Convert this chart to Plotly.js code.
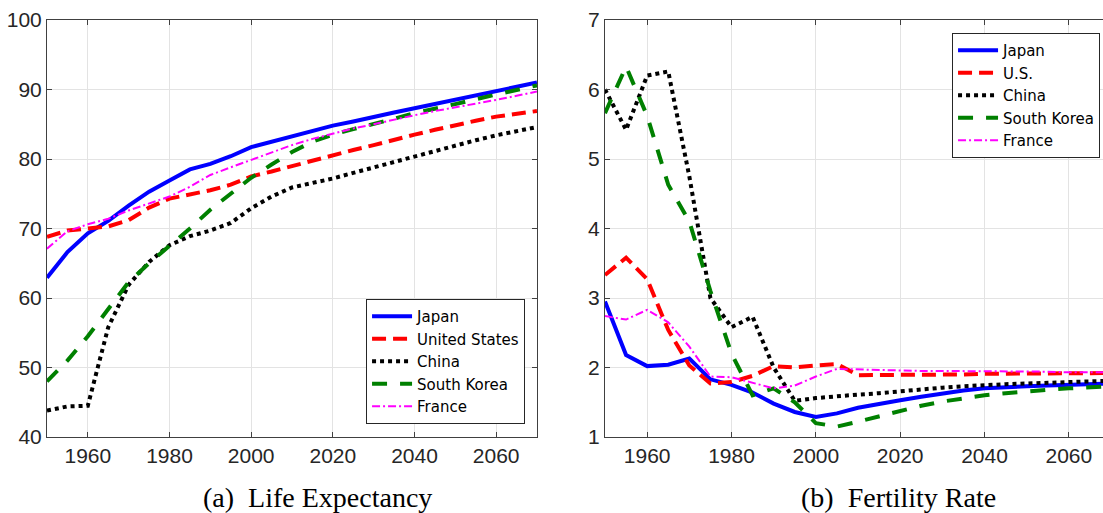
<!DOCTYPE html>
<html>
<head>
<meta charset="utf-8">
<script src="https://cdn.plot.ly/plotly-3.0.1.min.js"></script>
<style>
html,body{margin:0;padding:0;background:#fff;}
#chart{width:1103px;height:513px;}
</style>
</head>
<body>
<div id="chart"></div>
<script>
// ---- data ----
var years = [1950,1955,1960,1965,1970,1975,1980,1985,1990,1995,2000,2005,2010,2015,2020,2025,2030,2035,2040,2045,2050,2055,2060,2065,2070];

// (a) Life expectancy
var lifeJapan  = [62.9,66.6,69.3,71.1,73.3,75.3,76.9,78.5,79.3,80.4,81.7,82.5,83.3,84.1,84.8,85.4,86.1,86.7,87.3,87.9,88.5,89.1,89.7,90.4,91.0];
var lifeUS     = [68.8,69.7,70.0,70.3,71.2,73.0,74.3,74.9,75.5,76.3,77.5,78.2,79.0,79.8,80.6,81.3,82.0,82.8,83.5,84.2,84.9,85.5,86.1,86.5,86.9];
var lifeChina  = [43.8,44.4,44.5,55.8,61.9,65.2,67.6,68.9,69.7,70.8,72.9,74.6,75.9,76.5,77.2,78.0,78.8,79.5,80.3,81.1,81.9,82.7,83.4,84.0,84.6];
var lifeKorea  = [48.0,51.0,54.5,58.5,62.3,65.0,67.5,70.0,72.7,75.0,77.3,79.2,81.0,82.5,83.5,84.3,85.0,85.8,86.6,87.2,87.9,88.6,89.3,90.0,90.6];
var lifeFrance = [67.1,69.6,70.6,71.4,72.6,73.6,74.6,76.0,77.7,78.8,79.9,80.9,82.0,82.9,83.7,84.4,85.0,85.7,86.3,86.9,87.4,88.0,88.5,89.1,89.7];

// (b) Fertility rate
var fertJapan  = [2.95,2.18,2.02,2.04,2.13,1.83,1.75,1.64,1.48,1.36,1.29,1.34,1.42,1.48,1.53,1.58,1.63,1.67,1.70,1.72,1.73,1.74,1.75,1.76,1.77];
var fertUS     = [3.33,3.58,3.27,2.54,2.03,1.77,1.79,1.88,2.02,2.00,2.03,2.05,1.89,1.89,1.89,1.90,1.90,1.90,1.91,1.91,1.91,1.91,1.92,1.92,1.92];
var fertChina  = [6.00,5.42,6.20,6.26,4.75,3.00,2.58,2.73,2.00,1.52,1.56,1.59,1.61,1.63,1.66,1.69,1.71,1.73,1.75,1.76,1.77,1.78,1.79,1.80,1.81];
var fertKorea  = [5.66,6.33,5.62,4.63,4.10,3.10,2.20,1.60,1.70,1.50,1.20,1.15,1.22,1.30,1.38,1.45,1.51,1.56,1.60,1.63,1.66,1.68,1.70,1.72,1.73];
var fertFrance = [2.74,2.69,2.83,2.65,2.30,1.87,1.86,1.78,1.70,1.74,1.87,1.98,1.97,1.96,1.96,1.95,1.95,1.95,1.94,1.94,1.94,1.94,1.93,1.93,1.93];

var namesA = ['Japan','United States','China','South Korea','France'];
var namesB = ['Japan','U.S.','China','South Korea','France'];
var xTicks = [1960,1980,2000,2020,2040,2060];
var yTicksA = [40,50,60,70,80,90,100];
var yTicksB = [1,2,3,4,5,6,7];
var titleA = '(a)  Life Expectancy';
var titleB = '(b)  Fertility Rate';

// ---- styles ----
var styles = [
  {color:'#0000ff', width:4, dash:'solid'},
  {color:'#ff0000', width:4, dash:'14px,7px'},
  {color:'#000000', width:4, dash:'4px,4px'},
  {color:'#008000', width:4, dash:'15px,13px'},
  {color:'#ff00ff', width:2, dash:'8px,3px,2px,3px'}
];

var seriesA = [lifeJapan, lifeUS, lifeChina, lifeKorea, lifeFrance];
var seriesB = [fertJapan, fertUS, fertChina, fertKorea, fertFrance];

var traces = [];
seriesA.forEach(function(s,i){
  traces.push({x:years, y:s, name:namesA[i], type:'scatter', mode:'lines',
    line:{color:styles[i].color, width:styles[i].width, dash:styles[i].dash},
    xaxis:'x', yaxis:'y', legend:'legend'});
});
seriesB.forEach(function(s,i){
  traces.push({x:years, y:s, name:namesB[i], type:'scatter', mode:'lines',
    line:{color:styles[i].color, width:styles[i].width, dash:styles[i].dash},
    xaxis:'x2', yaxis:'y2', legend:'legend2'});
});

var tickFont = {family:'"Liberation Sans Narrow", "Liberation Sans", Arial, sans-serif', size:21, color:'#262626'};
var gridC = '#e3e3e3';
var axC = '#404040';

function xAxis(domain, range, anchor){
  return {domain:domain, range:range, anchor:anchor, tickmode:'array', tickvals:xTicks,
    ticks:'inside', ticklen:5, tickcolor:axC, showline:true, linecolor:axC, linewidth:1,
    mirror:'ticks', showgrid:true, gridcolor:gridC, gridwidth:1, zeroline:false,
    tickfont:tickFont, fixedrange:true};
}
function yAxis(range, tv, anchor, mirror){
  return {range:range, anchor:anchor, tickmode:'array', tickvals:tv,
    ticks:'inside', ticklen:5, tickcolor:axC, showline:true, linecolor:axC, linewidth:1,
    mirror:mirror, showgrid:true, gridcolor:gridC, gridwidth:1, zeroline:false,
    tickfont:tickFont, fixedrange:true};
}

var legendFont = {family:'"DejaVu Sans", sans-serif', size:15, color:'#000'};

var layout = {
  width:1103, height:513,
  margin:{l:47, r:0, t:20, b:76},
  paper_bgcolor:'#fff', plot_bgcolor:'#fff',
  showlegend:true,
  xaxis: xAxis([0, 0.4640], [1950, 2070], 'y'),
  yaxis: yAxis([40, 100], yTicksA, 'x', 'ticks'),
  xaxis2: xAxis([0.5284, 1], [1950, 2068.1], 'y2'),
  yaxis2: yAxis([1, 7], yTicksB, 'x2', false),
  legend:{x:0.4527, y:0.031, xanchor:'right', yanchor:'bottom', bgcolor:'#fff',
    bordercolor:'#262626', borderwidth:1, font:legendFont, tracegroupgap:0, itemwidth:40},
  legend2:{x:0.9972, y:0.969, xanchor:'right', yanchor:'top', bgcolor:'#fff',
    bordercolor:'#262626', borderwidth:1, font:legendFont, tracegroupgap:0, itemwidth:40},
  annotations:[
    {text:titleA, xref:'paper', yref:'paper', x:0.2557, y:-0.144, xanchor:'center', yanchor:'middle',
     showarrow:false, font:{family:'"Liberation Serif", "DejaVu Serif", serif', size:28, color:'#000'}},
    {text:titleB, xref:'paper', yref:'paper', x:0.8068, y:-0.144, xanchor:'center', yanchor:'middle',
     showarrow:false, font:{family:'"Liberation Serif", "DejaVu Serif", serif', size:28, color:'#000'}}
  ]
};

Plotly.newPlot('chart', traces, layout, {staticPlot:true, displayModeBar:false});
</script>
</body>
</html>
